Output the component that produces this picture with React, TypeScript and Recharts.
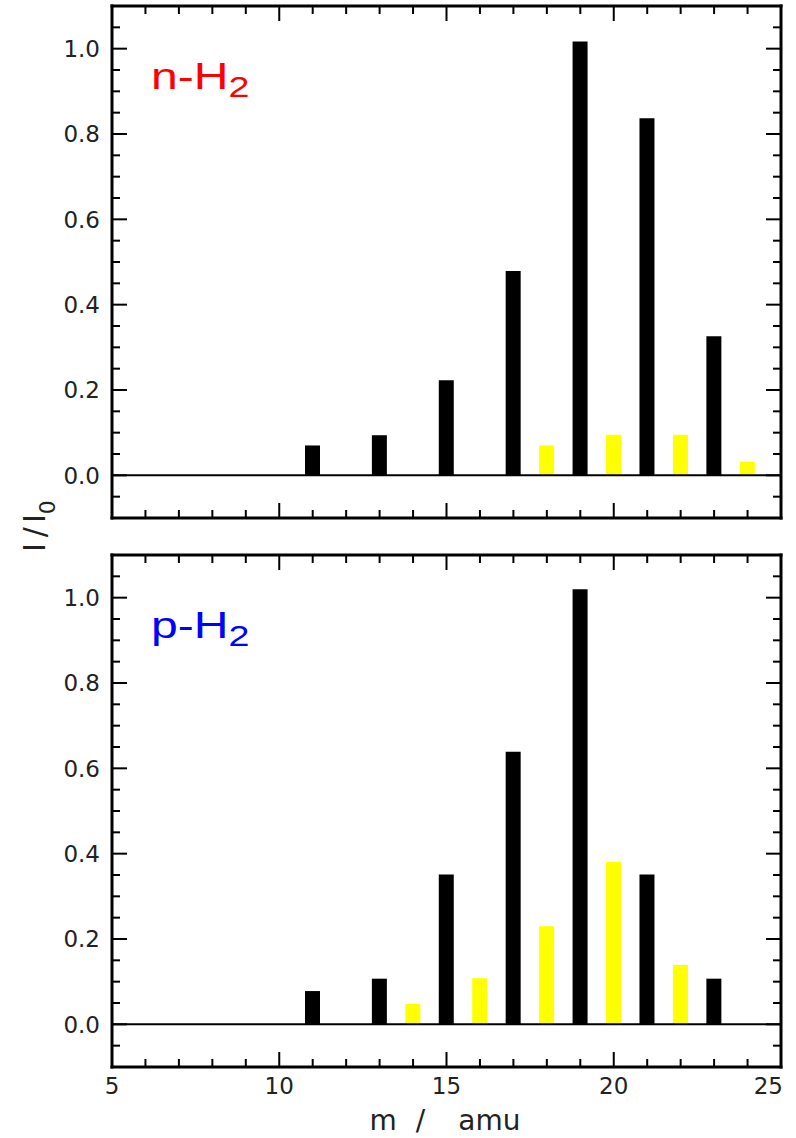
import React from 'react';
import { ComposedChart, Bar, XAxis, YAxis, ReferenceLine } from 'recharts';

// ---- data ----
const N_BLACK_M = [11, 13, 15, 17, 19, 21, 23];
const N_BLACK_V = [0.07, 0.094, 0.223, 0.479, 1.017, 0.837, 0.326];
const N_YELLOW_M = [18, 20, 22, 24];
const N_YELLOW_V = [0.07, 0.095, 0.095, 0.032];

const P_BLACK_M = [11, 13, 15, 17, 19, 21, 23];
const P_BLACK_V = [0.078, 0.107, 0.351, 0.639, 1.02, 0.351, 0.107];
const P_YELLOW_M = [14, 16, 18, 20, 22];
const P_YELLOW_V = [0.048, 0.108, 0.23, 0.381, 0.139];

const X_TICKS = [5, 6, 7, 8, 9, 10, 11, 12, 13, 14, 15, 16, 17, 18, 19, 20, 21, 22, 23, 24, 25];
const X_LABELS = [5, 10, 15, 20, 25];
const Y_TICKS = [-0.05, 0, 0.05, 0.1, 0.15, 0.2, 0.25, 0.3, 0.35, 0.4, 0.45, 0.5, 0.55, 0.6, 0.65, 0.7, 0.75, 0.8, 0.85, 0.9, 0.95, 1.0, 1.05];
const Y_LABELS = [0, 0.2, 0.4, 0.6, 0.8, 1.0];

function buildRows(mB: number[], vB: number[], mY: number[], vY: number[]) {
  const ms = Array.from(new Set([...mB, ...mY])).sort((a, b) => a - b);
  return ms.map((m) => ({
    m,
    black: mB.indexOf(m) >= 0 ? vB[mB.indexOf(m)] : null,
    yellow: mY.indexOf(m) >= 0 ? vY[mY.indexOf(m)] : null,
  }));
}

const N_ROWS = buildRows(N_BLACK_M, N_BLACK_V, N_YELLOW_M, N_YELLOW_V);
const P_ROWS = buildRows(P_BLACK_M, P_BLACK_V, P_YELLOW_M, P_YELLOW_V);

const TICK_FONT = 'DejaVu Sans';
const MAJOR = 15;
const MINOR = 8;

const isYMajor = (v: number) => Y_LABELS.some((l) => Math.abs(l - v) < 1e-6);

function XTick(props: any) {
  const { x, y, payload, side, showLabel } = props;
  const v = payload.value;
  const major = X_LABELS.indexOf(v) >= 0;
  const len = major ? MAJOR : MINOR;
  const dir = side === 'bottom' ? -1 : 1;
  const last = v === 25;
  return (
    <g>
      <line x1={x} y1={y} x2={x} y2={y + dir * len} stroke="#000" strokeWidth={2} />
      {showLabel && major && (
        <text
          x={last ? x + 2 : x}
          y={y + 27}
          textAnchor={last ? 'end' : 'middle'}
          fontFamily={TICK_FONT}
          fontSize={23}
          fill="#222"
        >
          {v}
        </text>
      )}
    </g>
  );
}

function YTick(props: any) {
  const { x, y, payload, side } = props;
  const v = payload.value;
  const major = isYMajor(v);
  const len = major ? MAJOR : MINOR;
  const dir = side === 'left' ? 1 : -1;
  return (
    <g>
      <line x1={x} y1={y} x2={x + dir * len} y2={y} stroke="#000" strokeWidth={2} />
      {side === 'left' && major && (
        <text x={x - 12} y={y + 8.4} textAnchor="end" fontFamily={TICK_FONT} fontSize={23} fill="#222">
          {v.toFixed(1)}
        </text>
      )}
    </g>
  );
}

const frameLine = { stroke: '#000', strokeWidth: 3, strokeLinecap: 'square' as const };

function Panel(props: { rows: any[]; top: number; height: number; mt: number; mb: number; showXLabels: boolean }) {
  const { rows, top, height, mt, mb, showXLabels } = props;
  return (
    <div style={{ position: 'absolute', left: 0, top, width: 796, height }}>
      <ComposedChart width={796} height={height} data={rows} margin={{ top: mt - 1, right: 14, bottom: mb - 1, left: 111 }}>
        <XAxis
          dataKey="m"
          type="number"
          domain={[5, 25]}
          ticks={X_TICKS}
          interval={0}
          allowDataOverflow
          height={1}
          tickSize={0}
          tickMargin={0}
          tickLine={false}
          axisLine={frameLine}
          tick={(p: any) => <XTick {...p} side="bottom" showLabel={showXLabels} />}
        />
        <XAxis
          xAxisId="top"
          orientation="top"
          dataKey="m"
          type="number"
          domain={[5, 25]}
          ticks={X_TICKS}
          interval={0}
          allowDataOverflow
          height={1}
          tickSize={0}
          tickMargin={0}
          tickLine={false}
          axisLine={frameLine}
          tick={(p: any) => <XTick {...p} side="top" showLabel={false} />}
        />
        <YAxis
          type="number"
          domain={[-0.1, 1.1]}
          ticks={Y_TICKS}
          interval={0}
          allowDataOverflow
          width={1}
          tickSize={0}
          tickMargin={0}
          tickLine={false}
          axisLine={frameLine}
          tick={(p: any) => <YTick {...p} side="left" />}
        />
        <YAxis
          yAxisId="right"
          orientation="right"
          type="number"
          domain={[-0.1, 1.1]}
          ticks={Y_TICKS}
          interval={0}
          allowDataOverflow
          width={1}
          tickSize={0}
          tickMargin={0}
          tickLine={false}
          axisLine={frameLine}
          tick={(p: any) => <YTick {...p} side="right" />}
        />
        <Bar dataKey="black" stackId="s" fill="#000000" barSize={15} isAnimationActive={false} />
        <Bar dataKey="yellow" stackId="s" fill="#ffff00" barSize={15} isAnimationActive={false} />
        <ReferenceLine y={0} stroke="#000" strokeWidth={2} />
      </ComposedChart>
    </div>
  );
}

function SpeciesLabel(props: { x: number; y: number; prefix: string; color: string }) {
  const { x, y, prefix, color } = props;
  return (
    <g transform={`translate(${x},${y}) scale(1.3,1)`}>
      <text x={0} y={0} fontFamily="Liberation Sans" fontSize={37} fill={color}>
        {prefix}-H
        <tspan fontSize={29} dy={8}>
          2
        </tspan>
      </text>
    </g>
  );
}

export default function App() {
  return (
    <div style={{ position: 'absolute', left: 0, top: 0, width: 796, height: 1138, background: '#fff' }}>
      <Panel rows={N_ROWS} top={0} height={540} mt={6} mb={22} showXLabels={false} />
      <Panel rows={P_ROWS} top={540} height={598} mt={15} mb={71} showXLabels={true} />
      <svg
        width={796}
        height={1138}
        style={{ position: 'absolute', left: 0, top: 0, pointerEvents: 'none' }}
      >
        <SpeciesLabel x={151} y={89} prefix="n" color="#ff0000" />
        <SpeciesLabel x={151} y={638} prefix="p" color="#0000ff" />
        <g transform="translate(45,552) rotate(-90)">
          <text x={0} y={0} fontFamily={TICK_FONT} fontSize={30} fill="#222">
            I
            <tspan dx={6}>/</tspan>
            <tspan dx={4}>I</tspan>
            <tspan fontSize={22} dy={10}>
              0
            </tspan>
          </text>
        </g>
        <text x={369.5} y={1130} fontFamily={TICK_FONT} fontSize={28} fill="#222">
          m
          <tspan dx={19}>/</tspan>
          <tspan dx={33}>amu</tspan>
        </text>
      </svg>
    </div>
  );
}
